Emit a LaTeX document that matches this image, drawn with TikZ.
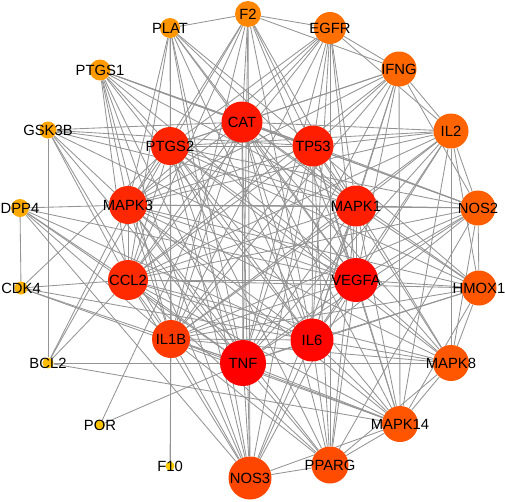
\documentclass[tikz,border=0pt]{standalone}
\usepackage{fontspec}
\setmainfont{Liberation Sans}
\usetikzlibrary{backgrounds}

\definecolor{colCAT}{RGB}{255,24,0}
\definecolor{colPTGS2}{RGB}{255,36,0}
\definecolor{colTP53}{RGB}{255,30,0}
\definecolor{colMAPK3}{RGB}{255,40,0}
\definecolor{colMAPK1}{RGB}{255,30,0}
\definecolor{colCCL2}{RGB}{255,42,0}
\definecolor{colVEGFA}{RGB}{255,8,0}
\definecolor{colIL1B}{RGB}{255,58,0}
\definecolor{colTNF}{RGB}{255,0,0}
\definecolor{colIL6}{RGB}{255,6,0}
\definecolor{colNOS3}{RGB}{255,70,0}
\definecolor{colPPARG}{RGB}{255,76,0}
\definecolor{colMAPK14}{RGB}{255,84,0}
\definecolor{colMAPK8}{RGB}{255,86,0}
\definecolor{colHMOX1}{RGB}{255,86,0}
\definecolor{colNOS2}{RGB}{255,94,0}
\definecolor{colIL2}{RGB}{255,100,0}
\definecolor{colIFNG}{RGB}{255,104,0}
\definecolor{colEGFR}{RGB}{255,112,0}
\definecolor{colF2}{RGB}{255,134,0}
\definecolor{colPLAT}{RGB}{255,150,0}
\definecolor{colPTGS1}{RGB}{255,155,0}
\definecolor{colGSK3B}{RGB}{255,164,0}
\definecolor{colDPP4}{RGB}{255,170,0}
\definecolor{colCDK4}{RGB}{255,178,0}
\definecolor{colBCL2}{RGB}{255,188,0}
\definecolor{colPOR}{RGB}{255,196,0}
\definecolor{colF10}{RGB}{255,204,0}

\newcommand{\genefont}{\fontsize{14.8}{16}\selectfont}

\begin{document}
\begin{tikzpicture}[x=1pt,y=-1pt,
    gene/.style={circle,draw=none,inner sep=0pt},
    every label/.style={font=\genefont,inner sep=0pt},
    link/.style={draw=black!42,line width=0.85pt}]
\useasboundingbox (0,0) rectangle (505,501);

  % genes: name/x/y/diameter
  \foreach \n/\x/\y/\d in {CAT/242/122/41, PTGS2/170/146/38, TP53/313/146/41,
      MAPK3/128/205/38, MAPK1/356/206/41, CCL2/128/280/40, VEGFA/356/280/44,
      IL1B/171/339/38, TNF/243/363/46, IL6/312/340/43,
      NOS3/250/478/43, PPARG/330/465/37, MAPK14/400/424/36, MAPK8/451/363/36,
      HMOX1/479/288/35, NOS2/478/208/35, IL2/451/131/35, IFNG/399/69/35,
      EGFR/330/28/32, F2/248/14/26, PLAT/170/28/20, PTGS1/100/70/21,
      GSK3B/48/130/17, DPP4/20/208/18, CDK4/21/288/13, BCL2/48/363/11,
      POR/100/425/10, F10/170/466/9}
    \node[gene,minimum size=\d pt,fill=col\n,label=center:\n] (\n) at (\x,\y) {};

\begin{scope}[on background layer]
  % hubs
  \foreach \a/\b in {CAT/PTGS2, CAT/TP53, CAT/MAPK3, CAT/MAPK1, CAT/CCL2, CAT/VEGFA,
      CAT/IL1B, CAT/TNF, CAT/IL6, PTGS2/TP53, PTGS2/MAPK3, PTGS2/MAPK1, PTGS2/CCL2,
      PTGS2/VEGFA, PTGS2/IL1B, PTGS2/TNF, PTGS2/IL6, TP53/MAPK3, TP53/MAPK1,
      TP53/CCL2, TP53/VEGFA, TP53/IL1B, TP53/TNF, TP53/IL6, MAPK3/MAPK1,
      MAPK3/CCL2, MAPK3/VEGFA, MAPK3/IL1B, MAPK3/TNF, MAPK3/IL6, MAPK1/CCL2,
      MAPK1/VEGFA, MAPK1/IL1B, MAPK1/TNF, MAPK1/IL6, CCL2/VEGFA, CCL2/IL1B,
      CCL2/TNF, CCL2/IL6, VEGFA/IL1B, VEGFA/TNF, VEGFA/IL6, IL1B/TNF, IL1B/IL6,
      TNF/IL6}
    \draw[link] (\a) -- (\b);
  % outer ring to hubs
  \foreach \a in {F2,EGFR,IFNG,IL2,NOS2,HMOX1,MAPK8,MAPK14,PPARG,NOS3}
    \foreach \b in {CAT,PTGS2,TP53,MAPK3,MAPK1,CCL2,VEGFA,IL1B,TNF,IL6}
      \draw[link] (\a) -- (\b);
  % outer ring among itself
  \foreach \a/\b in {F2/PLAT, F2/EGFR, F2/NOS3, F2/IFNG, EGFR/IFNG, EGFR/PPARG,
      EGFR/IL2, IFNG/IL2, IFNG/NOS2, IFNG/MAPK14, IL2/NOS2, IL2/HMOX1, IL2/MAPK8,
      IL2/MAPK14, NOS2/HMOX1, NOS2/MAPK8, NOS2/PPARG, HMOX1/MAPK8, HMOX1/MAPK14,
      MAPK8/MAPK14, MAPK8/PPARG, MAPK14/PPARG, MAPK14/NOS3, PPARG/NOS3}
    \draw[link] (\a) -- (\b);
  % small genes
  \foreach \a/\b in {PLAT/CAT, PLAT/PTGS2, PLAT/TP53, PLAT/MAPK3, PLAT/MAPK1,
      PLAT/CCL2, PLAT/VEGFA, PLAT/IL1B, PLAT/TNF, PLAT/IL6, PLAT/NOS3,
      PTGS1/CAT, PTGS1/PTGS2, PTGS1/TP53, PTGS1/MAPK3, PTGS1/MAPK1, PTGS1/CCL2,
      PTGS1/VEGFA, PTGS1/IL1B, PTGS1/TNF, PTGS1/IL6, PTGS1/NOS2, PTGS1/NOS3,
      GSK3B/CAT, GSK3B/PTGS2, GSK3B/TP53, GSK3B/MAPK3, GSK3B/MAPK1, GSK3B/CCL2,
      GSK3B/VEGFA, GSK3B/IL1B, GSK3B/TNF, GSK3B/BCL2,
      DPP4/MAPK3, DPP4/CCL2, DPP4/IL1B, DPP4/TNF, DPP4/IL6, DPP4/VEGFA,
      DPP4/CDK4, DPP4/NOS3,
      CDK4/CCL2, CDK4/PTGS2, CDK4/TNF, CDK4/IL6, CDK4/MAPK14,
      BCL2/MAPK3, BCL2/CCL2, BCL2/TNF, BCL2/MAPK14, BCL2/PTGS2,
      POR/CAT, POR/TNF, F10/IL1B, F10/PTGS2}
    \draw[link] (\a) -- (\b);
\end{scope}
\end{tikzpicture}
\end{document}
